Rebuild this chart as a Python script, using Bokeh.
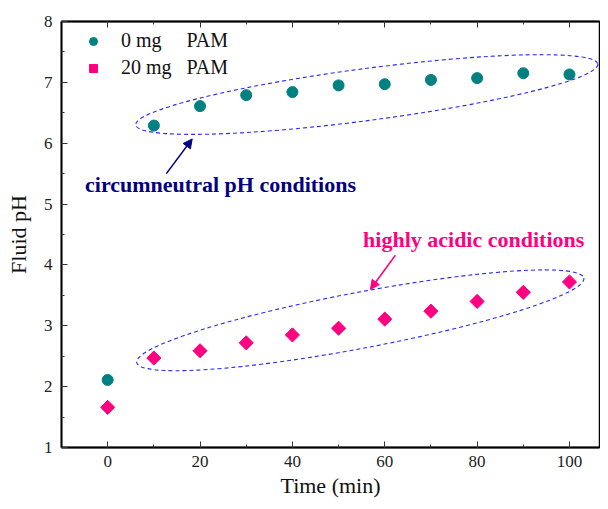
import numpy as np
from bokeh.plotting import figure
from bokeh.models import (LinearAxis, Legend, LegendItem, Arrow, NormalHead, Label,
                          Range1d, FixedTicker)
from bokeh.embed import file_html
from bokeh.resources import INLINE

time_min = [0, 10, 20, 30, 40, 50, 60, 70, 80, 90, 100]
ph_0mg = [2.11, 6.29, 6.61, 6.79, 6.84, 6.95, 6.97, 7.04, 7.07, 7.15, 7.13]
ph_20mg = [1.66, 2.47, 2.59, 2.72, 2.85, 2.96, 3.11, 3.24, 3.40, 3.55, 3.72]
x_ticks = [0, 20, 40, 60, 80, 100]
y_ticks = [1, 2, 3, 4, 5, 6, 7, 8]

SERIF = "Liberation Serif"
TEAL = "#008080"
PINK = "#FF0080"
NAVY = "#000080"
BLUE = "#2828FF"

p = figure(width=600, height=500, output_backend="svg", toolbar_location=None,
           x_range=Range1d(-10, 106.5), y_range=Range1d(1, 8),
           min_border_left=61, min_border_top=21, min_border_bottom=53, min_border_right=1)
p.grid.visible = False
p.background_fill_color = "white"
p.outline_line_color = "black"
p.outline_line_width = 1.5

def style_axis(ax):
    ax.axis_line_width = 1.8
    ax.axis_line_color = "black"
    ax.major_tick_in = 6
    ax.major_tick_out = 0
    ax.minor_tick_in = 3
    ax.minor_tick_out = 0
    ax.major_tick_line_color = "#333333"
    ax.minor_tick_line_color = "#333333"
    ax.major_label_text_font = SERIF
    ax.major_label_text_font_size = "17px"
    ax.major_label_text_color = "#222222"
    ax.axis_label_text_font = SERIF
    ax.axis_label_text_font_size = "22px"
    ax.axis_label_text_font_style = "normal"
    ax.axis_label_text_color = "#111111"

minor_x = list(range(-10, 110, 10))
xa = p.xaxis[0]
xa.ticker = FixedTicker(ticks=x_ticks, minor_ticks=minor_x)
xa.axis_label = "Time (min)"
xa.major_label_standoff = 8
xa.axis_label_standoff = 3
style_axis(xa)

ya = p.yaxis[0]
ya.ticker = FixedTicker(ticks=y_ticks, minor_ticks=list(np.arange(1, 8.01, 0.5)))
ya.axis_label = "Fluid pH"
ya.major_label_standoff = 9
ya.axis_label_standoff = 10
style_axis(ya)

top = LinearAxis(ticker=FixedTicker(ticks=x_ticks, minor_ticks=minor_x))
style_axis(top)
top.major_label_overrides = {t: "" for t in x_ticks}
top.major_label_standoff = 0
p.add_layout(top, "above")

# dashed ellipses around the two groups
p.ellipse(x=56.1, y=6.80, width=466, height=52, angle=np.deg2rad(7.5),
          width_units="screen", height_units="screen",
          fill_alpha=0, line_color=BLUE, line_dash="4 3", line_width=1.1)
p.ellipse(x=54.7, y=3.09, width=455, height=56, angle=np.deg2rad(10.7),
          width_units="screen", height_units="screen",
          fill_alpha=0, line_color=BLUE, line_dash="4 3", line_width=1.1)

r0 = p.scatter(time_min, ph_0mg, marker="circle", size=11, color=TEAL)
r20 = p.scatter(time_min, ph_20mg, marker="square", size=10, angle=np.pi / 4, color=PINK)

legend = Legend(items=[LegendItem(label="0 mg\u00a0\u00a0\u00a0\u00a0\u00a0PAM", renderers=[r0]),
                       LegendItem(label="20 mg\u00a0\u00a0\u00a0PAM", renderers=[r20])],
                location="top_left", background_fill_alpha=0, border_line_alpha=0,
                label_text_font=SERIF, label_text_font_size="20px",
                label_text_color="#111111", glyph_width=48, glyph_height=20,
                spacing=4, label_standoff=4, margin=0, padding=8)
p.add_layout(legend)

# arrows
p.add_layout(Arrow(end=NormalHead(size=9, fill_color=NAVY, line_color=NAVY),
                   x_start=12.7, y_start=5.50, x_end=18.3, y_end=6.07,
                   line_color=NAVY, line_width=1.5))
p.add_layout(Arrow(end=NormalHead(size=9, fill_color=PINK, line_color=PINK),
                   x_start=62.3, y_start=4.16, x_end=56.9, y_end=3.60,
                   line_color=PINK, line_width=1.5))

p.add_layout(Label(x=-4.9, y=5.32, text="circumneutral pH conditions", text_font=SERIF,
                   text_font_size="22px", text_font_style="bold", text_color=NAVY,
                   text_baseline="middle"))
p.add_layout(Label(x=55.3, y=4.41, text="highly acidic conditions", text_font=SERIF,
                   text_font_size="22px", text_font_style="bold", text_color=PINK,
                   text_baseline="middle"))

open("out.html", "w").write(file_html(p, INLINE))
